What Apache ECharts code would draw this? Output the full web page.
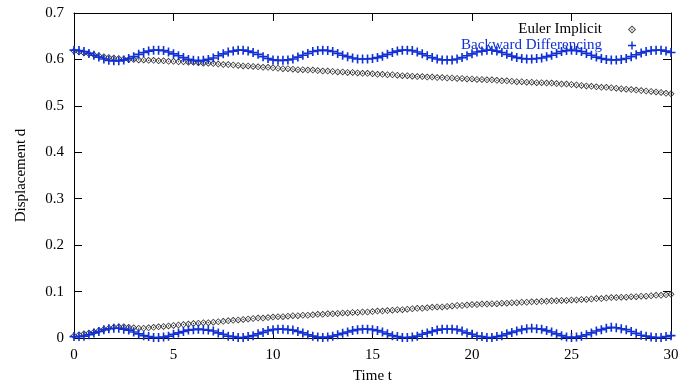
<!DOCTYPE html>
<html>
<head>
<meta charset="utf-8">
<script src="https://cdn.jsdelivr.net/npm/echarts@6/dist/echarts.min.js"></script>
<style>
  html, body { margin: 0; padding: 0; background: #fff; }
  #chart { width: 692px; height: 383px; }
</style>
</head>
<body>
<div id="chart"></div>
<script>
// pas de temps des points (0 .. 30)
const dt = 0.25;
const nbPoints = 121;

// Euler implicite : branche haute et branche basse
const eulerHaut = [
  0.618, 0.616, 0.614, 0.612, 0.610, 0.608, 0.606, 0.604,
  0.603, 0.602, 0.601, 0.600, 0.600, 0.599, 0.599, 0.598,
  0.598, 0.597, 0.597, 0.596, 0.596, 0.595, 0.595, 0.594,
  0.594, 0.593, 0.592, 0.592, 0.591, 0.590, 0.589, 0.589,
  0.588, 0.587, 0.586, 0.586, 0.585, 0.584, 0.583, 0.583,
  0.582, 0.581, 0.580, 0.580, 0.579, 0.578, 0.578, 0.577,
  0.577, 0.576, 0.575, 0.575, 0.574, 0.573, 0.573, 0.572,
  0.572, 0.571, 0.570, 0.570, 0.569, 0.568, 0.568, 0.567,
  0.567, 0.566, 0.565, 0.565, 0.564, 0.563, 0.563, 0.562,
  0.562, 0.561, 0.561, 0.560, 0.560, 0.559, 0.559, 0.558,
  0.558, 0.557, 0.557, 0.556, 0.556, 0.555, 0.554, 0.554,
  0.553, 0.552, 0.552, 0.551, 0.551, 0.550, 0.550, 0.549,
  0.549, 0.548, 0.547, 0.547, 0.546, 0.545, 0.544, 0.543,
  0.542, 0.541, 0.540, 0.540, 0.539, 0.538, 0.537, 0.536,
  0.535, 0.534, 0.533, 0.532, 0.531, 0.530, 0.529, 0.527,
  0.526
];
const eulerBas = [
  0.005, 0.007, 0.009, 0.011, 0.013, 0.016, 0.019, 0.021,
  0.023, 0.024, 0.024, 0.023, 0.022, 0.021, 0.021, 0.022,
  0.023, 0.024, 0.025, 0.026, 0.027, 0.028, 0.029, 0.030,
  0.031, 0.032, 0.033, 0.033, 0.034, 0.035, 0.036, 0.037,
  0.038, 0.039, 0.040, 0.041, 0.042, 0.043, 0.043, 0.044,
  0.045, 0.046, 0.046, 0.047, 0.048, 0.048, 0.049, 0.049,
  0.050, 0.051, 0.051, 0.052, 0.052, 0.053, 0.054, 0.054,
  0.055, 0.055, 0.056, 0.056, 0.057, 0.058, 0.058, 0.059,
  0.060, 0.061, 0.061, 0.062, 0.063, 0.064, 0.064, 0.065,
  0.066, 0.067, 0.067, 0.068, 0.069, 0.070, 0.070, 0.071,
  0.072, 0.072, 0.073, 0.073, 0.074, 0.074, 0.075, 0.075,
  0.076, 0.076, 0.077, 0.077, 0.078, 0.078, 0.079, 0.079,
  0.080, 0.080, 0.081, 0.081, 0.082, 0.082, 0.083, 0.083,
  0.084, 0.085, 0.085, 0.086, 0.087, 0.087, 0.088, 0.088,
  0.089, 0.089, 0.090, 0.090, 0.091, 0.092, 0.092, 0.093,
  0.094
];

// Différences rétrogrades : branche haute et branche basse
const bdHaut = [
  0.620, 0.619, 0.617, 0.613, 0.609, 0.605, 0.601, 0.598, 0.597, 0.597, 0.599, 0.602, 0.606, 0.611, 0.615, 0.618, 0.620,
  0.620, 0.619, 0.616, 0.612, 0.608, 0.604, 0.600, 0.598, 0.597, 0.598, 0.600, 0.603, 0.608, 0.612, 0.616, 0.618, 0.620,
  0.620, 0.618, 0.615, 0.611, 0.606, 0.602, 0.599, 0.598, 0.598, 0.599, 0.601, 0.605, 0.609, 0.613, 0.617, 0.619, 0.620,
  0.619, 0.617, 0.613, 0.609, 0.606, 0.603, 0.601, 0.601, 0.601, 0.602, 0.604, 0.607, 0.611, 0.615, 0.618, 0.620, 0.620,
  0.619, 0.616, 0.612, 0.608, 0.604, 0.601, 0.599, 0.599, 0.599, 0.601, 0.604, 0.608, 0.612, 0.616, 0.618, 0.620, 0.620,
  0.618, 0.615, 0.611, 0.607, 0.604, 0.602, 0.601, 0.601, 0.602, 0.603, 0.606, 0.609, 0.613, 0.617, 0.619, 0.620,
  0.619, 0.617, 0.613, 0.609, 0.605, 0.602, 0.600, 0.599, 0.599, 0.600, 0.602, 0.606, 0.610, 0.614, 0.617, 0.619, 0.620, 0.620, 0.618, 0.615
];
const bdBas = [
  0.003, 0.003, 0.004, 0.007, 0.011, 0.014, 0.018, 0.020, 0.021, 0.021, 0.019, 0.017, 0.013, 0.009, 0.005, 0.003, 0.001,
  0.001, 0.002, 0.004, 0.008, 0.011, 0.014, 0.017, 0.018, 0.019, 0.018, 0.017, 0.015, 0.011, 0.008, 0.004, 0.003, 0.001,
  0.001, 0.003, 0.005, 0.009, 0.012, 0.016, 0.018, 0.019, 0.019, 0.018, 0.017, 0.014, 0.011, 0.007, 0.004, 0.002, 0.001,
  0.002, 0.004, 0.007, 0.010, 0.013, 0.016, 0.018, 0.019, 0.019, 0.018, 0.016, 0.013, 0.009, 0.005, 0.003, 0.001, 0.001,
  0.002, 0.004, 0.008, 0.011, 0.014, 0.017, 0.019, 0.019, 0.019, 0.018, 0.015, 0.011, 0.008, 0.004, 0.003, 0.001, 0.001,
  0.003, 0.005, 0.009, 0.012, 0.015, 0.018, 0.020, 0.021, 0.020, 0.019, 0.016, 0.013, 0.009, 0.005, 0.002, 0.001,
  0.002, 0.004, 0.007, 0.011, 0.015, 0.018, 0.021, 0.023, 0.022, 0.020, 0.018, 0.014, 0.010, 0.006, 0.004, 0.002, 0.001, 0.001, 0.003, 0.005
];

const nomEuler = 'Euler Implicit';
const nomBD = 'Backward Differencing';

const bleu = '#1030d4';
const police = 'Liberation Serif';

// losange creux avec un point au centre, et croix "+"
const symboleLosange = 'path://M0,-10L10,0L0,10L-10,0Z M0,-6.8L-6.8,0L0,6.8L6.8,0Z M-1.6,-1.6L1.6,-1.6L1.6,1.6L-1.6,1.6Z';
const symboleCroix = 'path://M-1.8,-10H1.8V-1.8H10V1.8H1.8V10H-1.8V1.8H-10V-1.8H-1.8Z';

function points(haut, bas) {
    const res = [];
    for (let i = 0; i < nbPoints; i++) res.push([i * dt, haut[i]]);
    for (let i = 0; i < nbPoints; i++) res.push([i * dt, bas[i]]);
    return res;
}

function axeX(position, avecLabels) {
    return {
        type: 'value', position: position, min: 0, max: 30, interval: 5,
        name: avecLabels ? 'Time t' : '', nameLocation: 'middle', nameGap: 31,
        nameTextStyle: { fontFamily: police, fontSize: 15, color: '#000' },
        axisLine: { show: true, onZero: false, lineStyle: { color: '#000', width: 1 } },
        axisTick: { show: true, inside: true, length: 8, lineStyle: { color: '#000' } },
        axisLabel: { show: avecLabels, margin: 10, fontFamily: police, fontSize: 15, color: '#000' },
        splitLine: { show: false }
    };
}

function axeY(position, avecLabels) {
    return {
        type: 'value', position: position, min: 0, max: 0.7, interval: 0.1,
        name: avecLabels ? 'Displacement d' : '', nameLocation: 'middle', nameGap: 45,
        nameTextStyle: { fontFamily: police, fontSize: 15, color: '#000' },
        axisLine: { show: true, onZero: false, lineStyle: { color: '#000', width: 1 } },
        axisTick: { show: true, inside: true, length: 8, lineStyle: { color: '#000' } },
        axisLabel: { show: avecLabels, margin: 10, fontFamily: police, fontSize: 15, color: '#000' },
        splitLine: { show: false }
    };
}

const dom = document.getElementById('chart');
const myChart = echarts.init(dom);

myChart.setOption({
    animation: false,
    backgroundColor: '#fff',
    grid: { left: 74, right: 21, top: 13, bottom: 45, containLabel: false, outerBoundsMode: 'none' },
    legend: {
        orient: 'vertical', right: 56, top: 22, align: 'right',
        padding: 0, itemGap: 1, itemWidth: 50, itemHeight: 8,
        selectedMode: false,
        textStyle: { fontFamily: police, fontSize: 15, lineHeight: 15 },
        data: [
            { name: nomEuler, icon: symboleLosange, itemStyle: { color: '#333' }, textStyle: { color: '#000' } },
            { name: nomBD, icon: symboleCroix, itemStyle: { color: bleu }, textStyle: { color: bleu } }
        ]
    },
    xAxis: [axeX('bottom', true), axeX('top', false)],
    yAxis: [axeY('left', true), axeY('right', false)],
    series: [
        {
            name: nomEuler, type: 'scatter',
            symbol: symboleLosange, symbolSize: 7,
            itemStyle: { color: '#333', opacity: 1 },
            data: points(eulerHaut, eulerBas)
        },
        {
            name: nomBD, type: 'scatter',
            symbol: symboleCroix, symbolSize: 9,
            itemStyle: { color: bleu, opacity: 1 },
            data: points(bdHaut, bdBas)
        }
    ]
});
</script>
</body>
</html>
